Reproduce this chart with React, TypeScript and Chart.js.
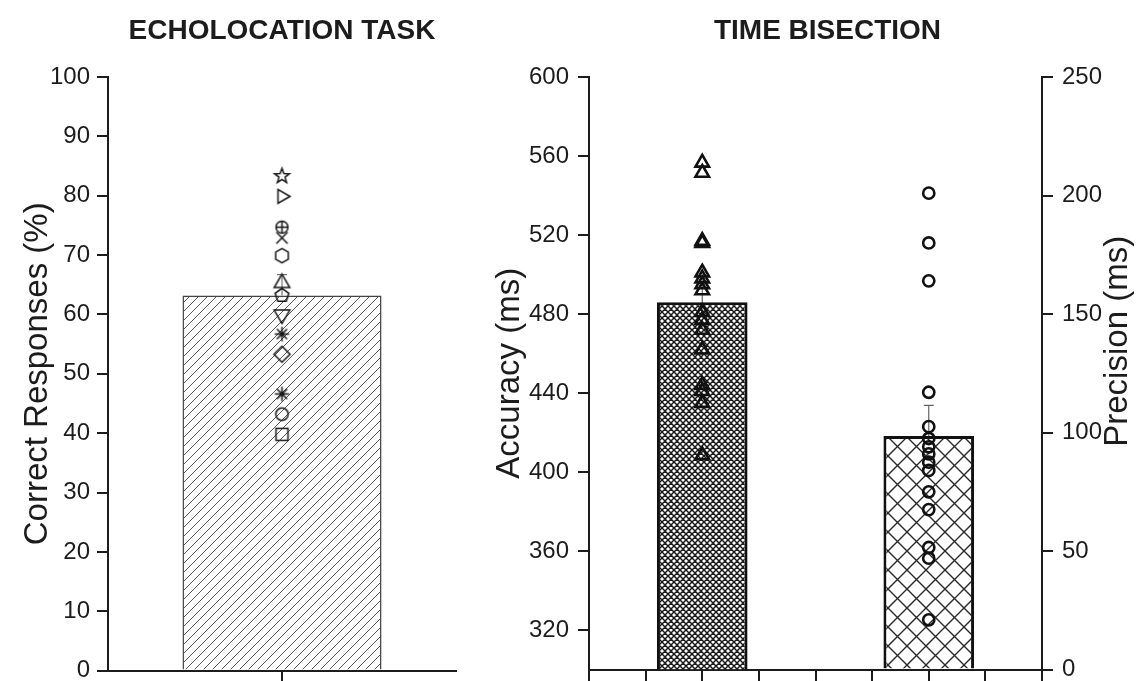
import React, { useEffect, useRef } from 'react';
import { Chart, registerables } from 'chart.js';

Chart.register(...registerables);

const FONT = "'Liberation Sans', Arial, Helvetica, sans-serif";
const INK = '#1c1c1c';

// ---------- data: echolocation task ----------
const echoTitle = 'ECHOLOCATION TASK';
const echoAxisTitle = 'Correct Responses (%)';
const echoMean = 63.2;
const echoSE = 3.5;
const echoValues = [83.4, 79.9, 74.7, 72.9, 69.9, 65.3, 63.2, 60.0, 56.7, 53.3, 46.6, 43.2, 39.8];
const echoSymbols = ['star5', 'triRight', 'circlePlus', 'cross', 'hexagon', 'triUp', 'pentagon', 'triDown', 'asterisk', 'diamond', 'asterisk', 'circle', 'square'];

// ---------- data: time bisection ----------
const bisectTitle = 'TIME BISECTION';
const accuracyTitle = 'Accuracy (ms)';
const precisionTitle = 'Precision (ms)';
const accuracyMean = 486;
const accuracySE = 10;
const precisionMean = 98.5;
const precisionSE = 13;
const accuracyValues = [556.6, 551.5, 517, 516, 501, 498, 495, 492, 481, 477, 472, 462, 444, 441, 435, 408.5];
const precisionValues = [201, 180, 164, 117, 102.5, 97.5, 94, 91, 87.5, 84, 75, 67.5, 51.5, 47, 21];
const accuracyTicks = [320, 360, 400, 440, 480, 520, 560, 600];
const accuracyMin = 300;
const accuracyMax = 600;
const precisionMin = 0;
const precisionMax = 250;
const bisectPositions = [0, 1, 2, 3, 4, 5, 6, 7, 8];
const accuracyX = 2;
const precisionX = 6;

function hatch(size: number, color: string, lw: number, both: boolean): CanvasPattern {
  const c = document.createElement('canvas');
  c.width = size; c.height = size;
  const g = c.getContext('2d')!;
  g.fillStyle = '#ffffff';
  g.fillRect(0, 0, size, size);
  g.strokeStyle = color;
  g.lineWidth = lw;
  g.beginPath();
  g.moveTo(0, size); g.lineTo(size, 0);
  g.moveTo(-size / 2, size / 2); g.lineTo(size / 2, -size / 2);
  g.moveTo(size / 2, size * 1.5); g.lineTo(size * 1.5, size / 2);
  if (both) {
    g.moveTo(0, 0); g.lineTo(size, size);
    g.moveTo(-size / 2, size / 2); g.lineTo(size / 2, size * 1.5);
    g.moveTo(size / 2, -size / 2); g.lineTo(size * 1.5, size / 2);
  }
  g.stroke();
  return g.createPattern(c, 'repeat')!;
}

function symbol(kind: string): HTMLCanvasElement {
  const S = 23;
  const c = document.createElement('canvas');
  c.width = S; c.height = S;
  const g = c.getContext('2d')!;
  const m = S / 2;
  g.strokeStyle = '#161616';
  g.fillStyle = '#161616';
  g.lineWidth = 1.5;
  const poly = (n: number, r: number, rot: number) => {
    g.beginPath();
    for (let i = 0; i < n; i++) {
      const a = rot + (i * 2 * Math.PI) / n;
      const px = m + r * Math.cos(a);
      const py = m + r * Math.sin(a);
      if (i === 0) g.moveTo(px, py); else g.lineTo(px, py);
    }
    g.closePath();
    g.stroke();
  };
  const line = (a: number, r: number) => {
    g.moveTo(m - r * Math.cos(a), m - r * Math.sin(a));
    g.lineTo(m + r * Math.cos(a), m + r * Math.sin(a));
  };
  switch (kind) {
    case 'star5': {
      g.beginPath();
      for (let i = 0; i < 10; i++) {
        const r = i % 2 ? 3.2 : 7.8;
        const a = -Math.PI / 2 + (i * Math.PI) / 5;
        const px = m + r * Math.cos(a);
        const py = m + 0.6 + r * Math.sin(a);
        if (i === 0) g.moveTo(px, py); else g.lineTo(px, py);
      }
      g.closePath();
      g.stroke();
      break;
    }
    case 'triRight': poly(3, 8, 0); break;
    case 'triUp': poly(3, 9, -Math.PI / 2); break;
    case 'triDown': poly(3, 9, Math.PI / 2); break;
    case 'hexagon': poly(6, 7.2, -Math.PI / 2); break;
    case 'pentagon': poly(5, 7.2, -Math.PI / 2); break;
    case 'diamond': poly(4, 8, -Math.PI / 2); break;
    case 'square': g.strokeRect(m - 6, m - 6, 12, 12); break;
    case 'circle':
      g.beginPath(); g.arc(m, m, 6.2, 0, Math.PI * 2); g.stroke(); break;
    case 'circlePlus':
      g.beginPath(); g.arc(m, m, 6, 0, Math.PI * 2);
      line(0, 6); line(Math.PI / 2, 6); g.stroke(); break;
    case 'cross':
      g.beginPath(); line(Math.PI / 4, 8); line(-Math.PI / 4, 8); g.stroke(); break;
    case 'asterisk':
      g.beginPath();
      line(0, 7.2); line(Math.PI / 2, 7.2); line(Math.PI / 4, 7.2); line(-Math.PI / 4, 7.2);
      g.stroke();
      g.beginPath(); g.arc(m, m, 1.8, 0, Math.PI * 2); g.fill();
      break;
  }
  return c;
}

const errorBarPlugin = {
  id: 'errorBars',
  beforeDatasetsDraw(chart: any) {
    const ctx = chart.ctx;
    chart.data.datasets.forEach((ds: any, i: number) => {
      if (!ds.errorValues) return;
      const meta = chart.getDatasetMeta(i);
      const yScale = chart.scales[meta.yAxisID];
      meta.data.forEach((el: any, j: number) => {
        const v = ds.data[j].y;
        const top = yScale.getPixelForValue(v + ds.errorValues[j]);
        const half = (ds.errorCapWidth || 10) / 2;
        ctx.save();
        ctx.strokeStyle = ds.errorColor || '#666';
        ctx.lineWidth = 1.2;
        ctx.beginPath();
        ctx.moveTo(el.x, el.y);
        ctx.lineTo(el.x, top);
        ctx.moveTo(el.x - half, top);
        ctx.lineTo(el.x + half, top);
        ctx.stroke();
        ctx.restore();
      });
    });
  },
};

// panel title drawn centred over the plot area (shift in px)
function panelTitle(text: string, shift: number) {
  return {
    id: 'panelTitle',
    afterDraw(chart: any) {
      const ctx = chart.ctx;
      const a = chart.chartArea;
      ctx.save();
      ctx.fillStyle = INK;
      ctx.font = `bold 28px ${FONT}`;
      ctx.textAlign = 'center';
      ctx.textBaseline = 'middle';
      ctx.fillText(text, (a.left + a.right) / 2 + shift, 31);
      ctx.restore();
    },
  };
}

const rightTitlePlugin = {
  id: 'rightTitle',
  afterDraw(chart: any) {
    const s = chart.scales.y2;
    if (!s) return;
    const ctx = chart.ctx;
    const area = chart.chartArea;
    ctx.save();
    ctx.translate(s.right - 19, (area.top + area.bottom) / 2 - 32);
    ctx.rotate(-Math.PI / 2);
    ctx.fillStyle = INK;
    ctx.font = `33px ${FONT}`;
    ctx.textAlign = 'center';
    ctx.textBaseline = 'middle';
    ctx.fillText(precisionTitle, 0, 0);
    ctx.restore();
  },
};

const axisBorder = { display: true, color: INK, width: 2 };
const tickFont = { family: FONT, size: 24 };
const titleFont = { family: FONT, size: 33 };

function EchoChart() {
  const ref = useRef<HTMLCanvasElement>(null);
  useEffect(() => {
    const chart = new Chart(ref.current!, {
      type: 'bar',
      data: {
        datasets: [
          {
            type: 'scatter',
            data: echoValues.map((v) => ({ x: 1, y: v })),
            pointStyle: echoSymbols.map(symbol) as any,
            pointRadius: 7,
            order: 0,
          } as any,
          {
            type: 'bar',
            data: [{ x: 1, y: echoMean }],
            backgroundColor: hatch(9, '#5a5a5a', 1, false),
            borderColor: '#444',
            borderWidth: 1.5,
            borderSkipped: 'start',
            barPercentage: 0.572,
            categoryPercentage: 1,
            errorValues: [echoSE],
            errorCapWidth: 10,
            errorColor: '#777',
            order: 1,
          } as any,
        ],
      },
      options: {
        responsive: false,
        animation: false,
        events: [],
        layout: { padding: { left: 0, right: 24, top: 77, bottom: 0 } },
        plugins: {
          legend: { display: false },
          tooltip: { enabled: false },
          title: { display: false },
        },
        scales: {
          x: {
            type: 'linear',
            min: 0,
            max: 2,
            offset: false,
            afterBuildTicks: (s: any) => { s.ticks = [{ value: 1 }]; },
            ticks: { display: false },
            grid: { display: true, offset: false, drawOnChartArea: false, drawTicks: true, tickLength: 20, tickColor: INK, tickWidth: 2, lineWidth: 2, color: INK },
            border: axisBorder,
          },
          y: {
            type: 'linear',
            min: 0,
            max: 100,
            ticks: { stepSize: 10, color: INK, font: tickFont, padding: 7 },
            grid: { display: true, drawOnChartArea: false, drawTicks: true, tickLength: 11, tickColor: INK, tickWidth: 2, lineWidth: 2, color: INK },
            border: axisBorder,
            title: { display: true, text: echoAxisTitle, color: INK, font: titleFont, padding: { top: 18, bottom: 0 } },
            afterFit: (s: any) => { s.width = 108; },
          },
        },
      } as any,
      plugins: [errorBarPlugin, panelTitle(echoTitle, 0)],
    });
    return () => chart.destroy();
  }, []);
  return <canvas ref={ref} width={480} height={692} style={{ position: 'absolute', left: 0, top: 0, width: 480, height: 692 }} />;
}

function BisectChart() {
  const ref = useRef<HTMLCanvasElement>(null);
  useEffect(() => {
    const chart = new Chart(ref.current!, {
      type: 'bar',
      data: {
        datasets: [
          {
            type: 'scatter',
            data: accuracyValues.map((v) => ({ x: accuracyX, y: v })),
            yAxisID: 'y',
            pointStyle: 'triangle',
            pointRadius: 7.8,
            borderWidth: 2.6,
            borderColor: '#111',
            backgroundColor: 'rgba(0,0,0,0)',
            order: 0,
          } as any,
          {
            type: 'scatter',
            data: precisionValues.map((v) => ({ x: precisionX, y: v })),
            yAxisID: 'y2',
            pointStyle: 'circle',
            pointRadius: 5.6,
            borderWidth: 2.6,
            borderColor: '#111',
            backgroundColor: 'rgba(0,0,0,0)',
            order: 0,
          } as any,
          {
            type: 'bar',
            data: [{ x: accuracyX, y: accuracyMean }],
            yAxisID: 'y',
            base: accuracyMin,
            backgroundColor: hatch(6, '#1a1a1a', 1.5, true),
            borderColor: '#111',
            borderWidth: 3,
            borderSkipped: 'start',
            grouped: false,
            barPercentage: 1.6,
            categoryPercentage: 1,
            errorValues: [accuracySE],
            errorCapWidth: 10,
            errorColor: '#666',
            order: 1,
          } as any,
          {
            type: 'bar',
            data: [{ x: precisionX, y: precisionMean }],
            yAxisID: 'y2',
            base: precisionMin,
            backgroundColor: hatch(19, '#2a2a2a', 1.4, true),
            borderColor: '#111',
            borderWidth: 3,
            borderSkipped: 'start',
            grouped: false,
            barPercentage: 1.6,
            categoryPercentage: 1,
            errorValues: [precisionSE],
            errorCapWidth: 10,
            errorColor: '#666',
            order: 1,
          } as any,
        ],
      },
      options: {
        responsive: false,
        animation: false,
        events: [],
        layout: { padding: { left: 0, right: 0, top: 77, bottom: 0 } },
        plugins: {
          legend: { display: false },
          tooltip: { enabled: false },
          title: { display: false },
        },
        scales: {
          x: {
            type: 'linear',
            min: bisectPositions[0],
            max: bisectPositions[bisectPositions.length - 1],
            offset: false,
            afterBuildTicks: (s: any) => { s.ticks = bisectPositions.map((v) => ({ value: v })); },
            ticks: { display: false },
            grid: { display: true, offset: false, drawOnChartArea: false, drawTicks: true, tickLength: 20, tickColor: INK, tickWidth: 2, lineWidth: 2, color: INK },
            border: axisBorder,
          },
          y: {
            type: 'linear',
            position: 'left',
            min: accuracyMin,
            max: accuracyMax,
            afterBuildTicks: (s: any) => { s.ticks = accuracyTicks.map((v) => ({ value: v })); },
            ticks: { color: INK, font: tickFont, padding: 9 },
            grid: { display: true, drawOnChartArea: false, drawTicks: true, tickLength: 11, tickColor: INK, tickWidth: 2, lineWidth: 2, color: INK },
            border: axisBorder,
            title: { display: true, text: accuracyTitle, color: INK, font: titleFont, padding: { top: 20, bottom: 0 } },
            afterFit: (s: any) => { s.width = 119; },
          },
          y2: {
            type: 'linear',
            position: 'right',
            min: precisionMin,
            max: precisionMax,
            ticks: { stepSize: 50, color: INK, font: tickFont, padding: 9 },
            grid: { display: true, drawOnChartArea: false, drawTicks: true, tickLength: 11, tickColor: INK, tickWidth: 2, lineWidth: 2, color: INK },
            border: axisBorder,
            afterFit: (s: any) => { s.width = 95; },
          },
        },
      } as any,
      plugins: [errorBarPlugin, rightTitlePlugin, panelTitle(bisectTitle, 12)],
    });
    return () => chart.destroy();
  }, []);
  return <canvas ref={ref} width={667} height={693} style={{ position: 'absolute', left: 470, top: 0, width: 667, height: 693 }} />;
}

export default function App() {
  return (
    <div style={{ position: 'fixed', left: 0, top: 0, width: 1137, height: 681, overflow: 'hidden', background: '#ffffff' }}>
      <EchoChart />
      <BisectChart />
    </div>
  );
}
